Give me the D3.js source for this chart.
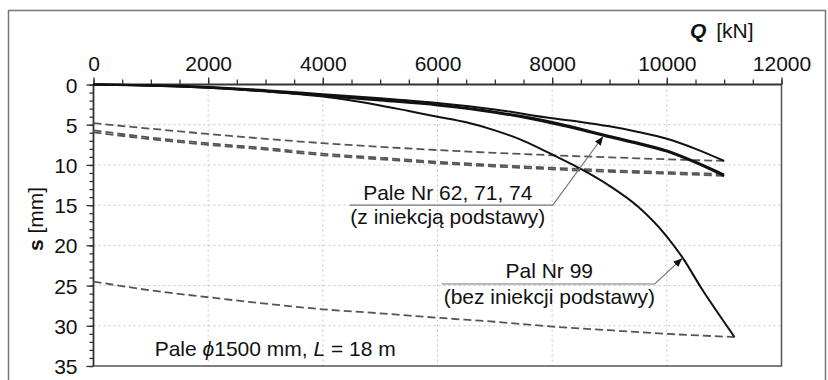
<!DOCTYPE html>
<html><head><meta charset="utf-8">
<script src="https://cdn.jsdelivr.net/npm/d3@7"></script>
<style>
html,body{margin:0;padding:0;background:#fff;}
text{font-family:"Liberation Sans",Arial,Helvetica,sans-serif;fill:#111;}
</style></head>
<body><svg id="c" width="828" height="380"></svg>
<script>
// ---- data ----
const xTicks = [0, 2000, 4000, 6000, 8000, 10000, 12000];
const yTicks = [0, 5, 10, 15, 20, 25, 30, 35];
const loadQ = [0, 1000, 2000, 3000, 4000, 5000, 6000, 7000, 8000, 8500, 9000, 9500, 10000, 10500, 11000];
const pile62 = [0, 0.1, 0.3, 0.7, 1.2, 1.7, 2.3, 3.1, 4.2, 4.65, 5.2, 5.9, 6.75, 8.0, 9.5];
const pile71 = [0, 0.1, 0.35, 0.8, 1.35, 1.9, 2.5, 3.4, 4.65, 5.5, 6.4, 7.25, 8.2, 9.6, 11.2];
const pile74 = [0, 0.12, 0.4, 0.85, 1.4, 2.0, 2.6, 3.5, 4.85, 5.65, 6.55, 7.4, 8.35, 9.75, 11.4];
const pile99Q = [0, 1000, 2000, 3000, 4000, 5000, 5500, 6000, 6500, 7000, 7500, 8000, 8500, 9000, 9500, 10000, 10300, 10600, 10900, 11180];
const pile99S = [0, 0.15, 0.4, 0.85, 1.5, 2.6, 3.3, 4.0, 4.7, 5.7, 7.0, 8.7, 10.5, 12.6, 15.2, 18.9, 21.8, 25.3, 28.5, 31.4];
const unloadQ = [0, 1000, 2000, 3000, 4000, 5000, 6000, 7000, 8000, 9000, 10000, 11000];
const unload62 = [4.8, 5.5, 6.15, 6.75, 7.3, 7.75, 8.15, 8.5, 8.8, 9.05, 9.3, 9.5];
const unload71 = [5.7, 6.6, 7.3, 7.9, 8.6, 9.1, 9.6, 10.0, 10.35, 10.65, 10.9, 11.15];
const unload74 = [5.95, 6.8, 7.5, 8.1, 8.8, 9.3, 9.8, 10.2, 10.55, 10.85, 11.1, 11.35];
const unload99Q = [0, 1000, 2000, 3000, 4000, 5000, 6000, 7000, 8000, 9000, 10000, 11180];
const unload99 = [24.5, 25.6, 26.45, 27.25, 27.95, 28.45, 29.0, 29.5, 30.1, 30.55, 31.0, 31.4];

const svg = d3.select("#c");
const x = d3.scaleLinear().domain([0, 12000]).range([93.5, 781.5]);
const y = d3.scaleLinear().domain([0, 35]).range([84.5, 366]);
const fs = "21px";

// outer frame
svg.append("rect").attr("x", 8.5).attr("y", 10.5).attr("width", 817).attr("height", 400)
  .attr("fill", "none").attr("stroke", "#777").attr("stroke-width", 1.5);

// grid
const grid = svg.append("g").attr("stroke", "#c4c4c4").attr("stroke-width", 1).attr("stroke-dasharray", "2,3");
grid.selectAll("line.v").data(xTicks.slice(1, -1)).join("line")
  .attr("x1", d => x(d)).attr("x2", d => x(d)).attr("y1", y(0)).attr("y2", y(35));
grid.selectAll("line.h").data(yTicks.slice(1, -1)).join("line")
  .attr("y1", d => y(d)).attr("y2", d => y(d)).attr("x1", x(0)).attr("x2", x(12000));

// plot border (right, bottom)
svg.append("path").attr("d", `M${x(12000)},${y(0)}V${y(35)}H${x(0)}`)
  .attr("fill", "none").attr("stroke", "#555").attr("stroke-width", 1.5);

// axes
const xMinor = d3.range(0, 12001, 500);
const yMinor = d3.range(0, 35.01, 1);
const gxm = svg.append("g").attr("transform", `translate(0,${y(0)})`)
  .call(d3.axisTop(x).tickValues(xMinor).tickSize(5).tickFormat(""));
const gx = svg.append("g").attr("transform", `translate(0,${y(0)})`)
  .call(d3.axisTop(x).tickValues(xTicks).tickSize(7).tickPadding(7).tickFormat(d3.format("d")));
const gym = svg.append("g").attr("transform", `translate(${x(0)},0)`)
  .call(d3.axisLeft(y).tickValues(yMinor).tickSize(4).tickFormat(""));
const gy = svg.append("g").attr("transform", `translate(${x(0)},0)`)
  .call(d3.axisLeft(y).tickValues(yTicks).tickSize(7).tickPadding(9).tickFormat(d3.format("d")));
[gxm, gx, gym, gy].forEach(g => {
  g.select(".domain").attr("stroke", "#333").attr("stroke-width", 1.8);
  g.selectAll(".tick line").attr("stroke", "#333").attr("stroke-width", 1.3);
  g.selectAll(".tick text").attr("font-size", fs).attr("fill", "#111")
    .attr("font-family", '"Liberation Sans",Arial,sans-serif');
});
gx.selectAll(".domain").attr("d", `M${x(0)},0H${x(12000)}`);
gy.selectAll(".domain").attr("d", `M0,${y(0)}V${y(35)}`);
gym.select(".domain").remove(); gxm.select(".domain").remove();
gy.selectAll(".tick text").attr("dy", "0.36em");

// axis titles
const qt = svg.append("text").attr("x", 690).attr("y", 38).attr("font-size", fs);
qt.append("tspan").attr("font-weight", "bold").attr("font-style", "italic").text("Q");
qt.append("tspan").text(" [kN]").attr("dx", 4);
const st = svg.append("text").attr("transform", "translate(43,219) rotate(-90)")
  .attr("text-anchor", "middle").attr("font-size", fs);
st.append("tspan").attr("font-weight", "bold").text("s");
st.append("tspan").text(" [mm]");

// curves
const line = d3.line().x(d => x(d[0])).y(d => y(d[1])).curve(d3.curveMonotoneX);
const dashed = [
  d3.zip(unloadQ, unload62), d3.zip(unloadQ, unload71), d3.zip(unloadQ, unload74), d3.zip(unload99Q, unload99)
];
svg.append("g").selectAll("path").data(dashed).join("path")
  .attr("d", line).attr("fill", "none").attr("stroke", "#555").attr("stroke-width", 1.8)
  .attr("stroke-dasharray", "8,4");
const solid = [
  d3.zip(loadQ, pile62), d3.zip(loadQ, pile71), d3.zip(loadQ, pile74), d3.zip(pile99Q, pile99S)
];
svg.append("g").selectAll("path").data(solid).join("path")
  .attr("d", line).attr("fill", "none").attr("stroke", "#111").attr("stroke-width", 2);

// arrow marker
svg.append("defs").append("marker").attr("id", "ah").attr("viewBox", "0 0 10 10")
  .attr("refX", 10).attr("refY", 5).attr("markerWidth", 9).attr("markerHeight", 9)
  .attr("markerUnits", "userSpaceOnUse").attr("orient", "auto")
  .append("path").attr("d", "M0,1L10,5L0,9Z").attr("fill", "#111");

// annotations
function annot(q0, q1, s, tipQ, tipS, cq, l1, l2, off2) {
  svg.append("path")
    .attr("d", `M${x(q0)},${y(s)}H${x(q1)}L${x(tipQ)},${y(tipS)}`)
    .attr("fill", "none").attr("stroke", "#777").attr("stroke-width", 1.1)
    .attr("marker-end", "url(#ah)");
  svg.append("text").attr("x", x(cq)).attr("y", y(s) - 5.5).attr("text-anchor", "middle")
    .attr("font-size", fs).text(l1);
  svg.append("text").attr("x", x(cq)).attr("y", y(s) + off2).attr("text-anchor", "middle")
    .attr("font-size", fs).text(l2);
}
annot(4470, 8010, 15, 8889, 6.45, 6180, "Pale Nr 62, 71, 74", "(z iniekcją podstawy)", 19);
annot(6070, 9790, 24.8, 10270, 21.6, 7950, "Pal Nr 99", "(bez iniekcji podstawy)", 20);

const bt = svg.append("text").attr("x", x(3170)).attr("y", 356).attr("text-anchor", "middle").attr("font-size", fs);
bt.append("tspan").text("Pale ");
bt.append("tspan").attr("font-style", "italic").text("ϕ");
bt.append("tspan").text("1500 mm, ");
bt.append("tspan").attr("font-style", "italic").text("L");
bt.append("tspan").text(" = 18 m");
</script></body></html>
